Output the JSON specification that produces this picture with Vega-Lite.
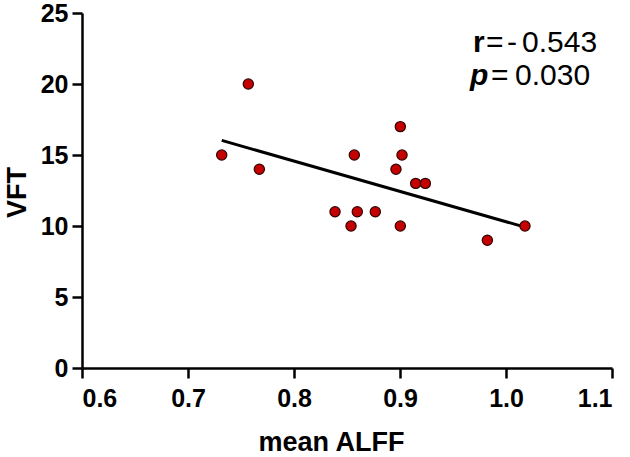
{
  "$schema": "https://vega.github.io/schema/vega-lite/v6.json",
  "width": 530,
  "height": 355,
  "autosize": "none",
  "padding": {"left": 82, "top": 13, "right": 18, "bottom": 89},
  "background": "white",
  "config": {"view": {"stroke": null}, "font": "Liberation Sans"},
  "datasets": {
    "points": [
      {"ALFF": 0.7318, "VFT": 15},
      {"ALFF": 0.7569, "VFT": 20},
      {"ALFF": 0.7673, "VFT": 14},
      {"ALFF": 0.8569, "VFT": 15},
      {"ALFF": 0.9003, "VFT": 17},
      {"ALFF": 0.9019, "VFT": 15},
      {"ALFF": 0.8962, "VFT": 14},
      {"ALFF": 0.9148, "VFT": 13},
      {"ALFF": 0.9239, "VFT": 13},
      {"ALFF": 0.8387, "VFT": 11},
      {"ALFF": 0.8597, "VFT": 11},
      {"ALFF": 0.8767, "VFT": 11},
      {"ALFF": 0.8538, "VFT": 10},
      {"ALFF": 0.9003, "VFT": 10},
      {"ALFF": 0.9824, "VFT": 9},
      {"ALFF": 1.0179, "VFT": 10}
    ]
  },
  "encoding": {
    "x": {
      "field": "ALFF",
      "type": "quantitative",
      "scale": {"domain": [0.6, 1.1], "nice": false, "zero": false},
      "axis": {
        "values": [0.6, 0.7, 0.8, 0.9, 1.0, 1.1],
        "format": ".1f",
        "grid": false,
        "domainColor": "black",
        "domainWidth": 2.5,
        "tickColor": "black",
        "tickWidth": 2.5,
        "tickSize": 10,
        "labelFont": "Liberation Sans",
        "labelFontWeight": "bold",
        "labelFontSize": 25,
        "labelColor": "black",
        "labelPadding": 8,
        "title": "mean ALFF",
        "titleFont": "Liberation Sans",
        "titleFontWeight": "bold",
        "titleFontSize": 27,
        "titleColor": "black",
        "titleX": 249,
        "titleY": 82,
        "titleBaseline": "alphabetic"
      }
    },
    "y": {
      "field": "VFT",
      "type": "quantitative",
      "scale": {"domain": [0, 25], "nice": false, "zero": true},
      "axis": {
        "values": [0, 5, 10, 15, 20, 25],
        "grid": false,
        "domainColor": "black",
        "domainWidth": 2.5,
        "tickColor": "black",
        "tickWidth": 2.5,
        "tickSize": 10,
        "labelFont": "Liberation Sans",
        "labelFontWeight": "bold",
        "labelFontSize": 25,
        "labelColor": "black",
        "labelPadding": 4,
        "title": "VFT",
        "titleFont": "Liberation Sans",
        "titleFontWeight": "bold",
        "titleFontSize": 27,
        "titleColor": "black",
        "titleX": -57,
        "titleY": 179,
        "titleBaseline": "alphabetic"
      }
    }
  },
  "layer": [
    {
      "data": {"name": "points"},
      "transform": [{"regression": "VFT", "on": "ALFF"}],
      "mark": {"type": "line", "color": "black", "strokeWidth": 3}
    },
    {
      "data": {"name": "points"},
      "mark": {"type": "circle", "size": 105, "fill": "#c40000", "stroke": "#300000", "strokeWidth": 1.2, "opacity": 1}
    },
    {
      "data": {"values": [{"ALFF": 0.9689, "VFT": 22.254, "t": "r"}]},
      "mark": {"type": "text", "align": "left", "baseline": "alphabetic", "fontSize": 30, "fontWeight": "bold", "font": "Liberation Sans", "color": "black"},
      "encoding": {"text": {"field": "t"}}
    },
    {
      "data": {"values": [
        {"ALFF": 0.9811, "VFT": 22.254, "t": "="},
        {"ALFF": 1.0009, "VFT": 22.254, "t": "-"},
        {"ALFF": 1.0151, "VFT": 22.254, "t": "0.543"},
        {"ALFF": 0.9858, "VFT": 19.93, "t": "="},
        {"ALFF": 1.0085, "VFT": 19.93, "t": "0.030"}
      ]},
      "mark": {"type": "text", "align": "left", "baseline": "alphabetic", "fontSize": 30, "font": "Liberation Sans", "color": "black"},
      "encoding": {"text": {"field": "t"}}
    },
    {
      "data": {"values": [{"ALFF": 0.966, "VFT": 19.93, "t": "p"}]},
      "mark": {"type": "text", "align": "left", "baseline": "alphabetic", "fontSize": 30, "fontWeight": "bold", "fontStyle": "italic", "font": "Liberation Sans", "color": "black"},
      "encoding": {"text": {"field": "t"}}
    }
  ]
}
